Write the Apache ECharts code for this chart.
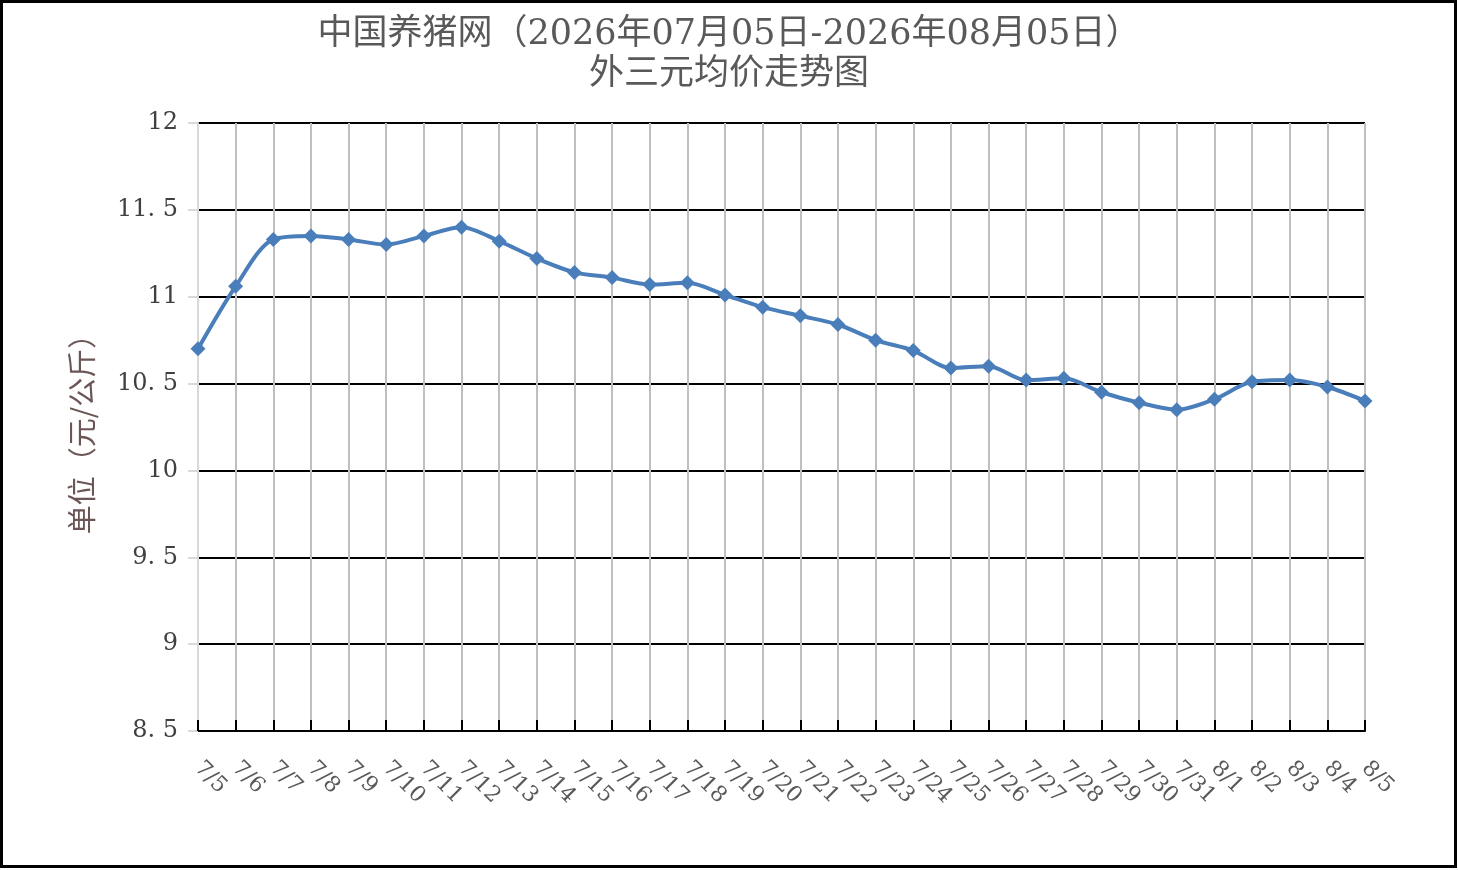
<!DOCTYPE html>
<html>
<head>
<meta charset="utf-8">
<script src="https://cdn.jsdelivr.net/npm/echarts@6/dist/echarts.min.js"></script>
<style>
  html, body { margin: 0; padding: 0; background: #fff; }
  #main { width: 1458px; height: 870px; }
</style>
</head>
<body>
<div id="main"></div>
<script>
// 日期
var days = ['7/5', '7/6', '7/7', '7/8', '7/9', '7/10', '7/11', '7/12', '7/13', '7/14',
    '7/15', '7/16', '7/17', '7/18', '7/19', '7/20', '7/21', '7/22', '7/23', '7/24',
    '7/25', '7/26', '7/27', '7/28', '7/29', '7/30', '7/31', '8/1', '8/2', '8/3', '8/4', '8/5'];
// 外三元均价（元/公斤）
var prices = [10.70, 11.06, 11.33, 11.35, 11.33, 11.30, 11.35, 11.40, 11.32, 11.22,
    11.14, 11.11, 11.07, 11.08, 11.01, 10.94, 10.89, 10.84, 10.75, 10.69,
    10.59, 10.60, 10.52, 10.53, 10.45, 10.39, 10.35, 10.41, 10.51, 10.52, 10.48, 10.40];
var yMin = 8.5, yMax = 12, yStep = 0.5;

var textColor = '#595959';
var serif = "'DejaVu Serif', 'Liberation Serif', 'Noto Sans CJK SC', serif";

var myChart = echarts.init(document.getElementById('main'));
var option = {
    backgroundColor: '#fff',
    animation: false,
    title: {
        text: '中国养猪网（2026年07月05日-2026年08月05日）\n外三元均价走势图',
        left: 'center',
        top: 10,
        textStyle: {
            color: textColor,
            fontFamily: serif,
            fontWeight: 'normal',
            fontSize: 35,
            lineHeight: 40
        }
    },
    graphic: [{
        type: 'rect',
        shape: { x: 1.5, y: 1.5, width: 1454, height: 865 },
        style: { fill: 'none', stroke: '#000', lineWidth: 3 },
        silent: true
    }],
    grid: {
        left: 198,
        right: 93,
        top: 123,
        bottom: 139
    },
    xAxis: {
        type: 'category',
        data: days,
        boundaryGap: false,
        axisLine: { lineStyle: { color: '#000', width: 2 } },
        axisTick: { inside: true, length: 11, lineStyle: { color: '#000', width: 2 } },
        axisLabel: {
            rotate: -45,
            margin: 34,
            color: textColor,
            fontFamily: serif,
            fontSize: 22,
            interval: 0
        },
        splitLine: { show: true, lineStyle: { color: '#bfbfbf', width: 2 } }
    },
    yAxis: {
        type: 'value',
        min: yMin,
        max: yMax,
        interval: yStep,
        name: '单位（元/公斤）',
        nameLocation: 'middle',
        nameGap: 102,
        nameRotate: 90,
        nameTextStyle: {
            color: '#6b5555',
            fontFamily: "'Noto Sans CJK SC', sans-serif",
            fontSize: 29
        },
        axisLine: { show: true, lineStyle: { color: '#d9d9d9', width: 2 } },
        axisTick: { show: true, length: 10, lineStyle: { color: '#d9d9d9', width: 2 } },
        axisLabel: {
            margin: 20,
            color: '#404040',
            fontFamily: serif,
            fontSize: 24,
            formatter: function (v) { return String(v).replace('.', '. '); }
        },
        splitLine: { show: true, lineStyle: { color: '#000', width: 2 } }
    },
    series: [{
        name: '外三元均价',
        type: 'line',
        data: prices,
        smooth: 0.3,
        symbol: 'diamond',
        symbolSize: 15,
        lineStyle: { color: '#4a7ebb', width: 4 },
        itemStyle: { color: '#4a7ebb' }
    }]
};

myChart.setOption(option);
</script>
</body>
</html>
